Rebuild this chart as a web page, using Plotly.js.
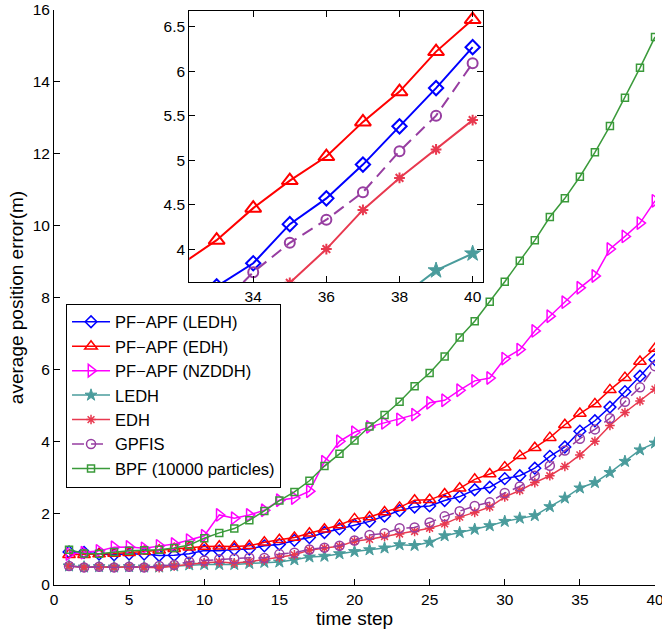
<!DOCTYPE html>
<html>
<head>
<meta charset="utf-8">
<script src="https://cdn.plot.ly/plotly-3.0.1.min.js"></script>
<style>html,body{margin:0;padding:0;background:#fff;}#chart{width:662px;height:633px;}</style>
</head>
<body>
<div id="chart"></div>
<script>
// ---- data ----
var timeSteps = [];
for (var k = 1; k <= 40; k++) timeSteps.push(k);

var seriesNames = ['PF\u2212APF (LEDH)', 'PF\u2212APF (EDH)', 'PF\u2212APF (NZDDH)', 'LEDH', 'EDH', 'GPFIS', 'BPF (10000 particles)'];

var pfApfLEDH = [0.92, 0.91, 0.86, 0.84, 0.86, 0.86, 0.82, 0.83, 0.87, 0.96,
                 0.95, 0.99, 1.00, 1.09, 1.13, 1.24, 1.32, 1.46, 1.56, 1.67,
                 1.77, 1.92, 2.07, 2.17, 2.20, 2.35, 2.46, 2.65, 2.72, 2.96,
                 3.04, 3.25, 3.58, 3.84, 4.28, 4.57, 4.95, 5.38, 5.81, 6.27];
var pfApfEDH = [0.84, 0.84, 0.86, 0.88, 0.90, 0.93, 0.97, 1.01, 1.05, 1.07,
                1.08, 1.07, 1.09, 1.19, 1.26, 1.32, 1.44, 1.55, 1.67, 1.84,
                1.89, 2.03, 2.16, 2.36, 2.37, 2.53, 2.69, 2.94, 3.09, 3.28,
                3.60, 3.82, 4.10, 4.46, 4.77, 5.04, 5.43, 5.77, 6.22, 6.58];
var pfApfNZDDH = [0.86, 0.90, 0.95, 1.05, 1.06, 1.02, 1.09, 1.14, 1.25, 1.37,
                  1.95, 1.86, 1.95, 2.08, 2.36, 2.42, 2.61, 3.43, 4.00, 4.25,
                  4.40, 4.51, 4.61, 4.74, 5.07, 5.14, 5.42, 5.68, 5.76, 6.30,
                  6.55, 7.07, 7.48, 7.87, 8.27, 8.60, 9.35, 9.70, 10.07, 10.69];
var ledh = [0.53, 0.50, 0.51, 0.50, 0.51, 0.50, 0.50, 0.53, 0.56, 0.57,
            0.57, 0.57, 0.60, 0.63, 0.64, 0.70, 0.78, 0.80, 0.87, 0.93,
            0.98, 1.03, 1.12, 1.10, 1.19, 1.37, 1.46, 1.55, 1.65, 1.77,
            1.86, 1.93, 2.18, 2.42, 2.70, 2.85, 3.13, 3.44, 3.76, 3.95];
var edh = [0.53, 0.49, 0.51, 0.49, 0.51, 0.49, 0.48, 0.53, 0.58, 0.62,
           0.64, 0.61, 0.65, 0.70, 0.77, 0.84, 0.97, 1.03, 1.08, 1.22,
           1.27, 1.35, 1.42, 1.49, 1.58, 1.70, 1.89, 2.02, 2.17, 2.45,
           2.63, 2.85, 3.04, 3.30, 3.62, 4.00, 4.44, 4.80, 5.12, 5.45];
var gpfis = [0.53, 0.49, 0.51, 0.49, 0.51, 0.49, 0.53, 0.56, 0.65, 0.68,
             0.72, 0.73, 0.76, 0.75, 0.86, 0.90, 0.99, 1.04, 1.09, 1.24,
             1.39, 1.44, 1.58, 1.60, 1.74, 1.91, 2.05, 2.20, 2.30, 2.56,
             2.74, 3.04, 3.32, 3.74, 4.07, 4.33, 4.64, 5.10, 5.50, 6.09];
var bpf = [0.98, 0.88, 0.87, 0.92, 0.95, 0.97, 0.98, 1.03, 1.11, 1.30,
           1.45, 1.57, 1.80, 2.06, 2.35, 2.59, 2.90, 3.31, 3.65, 4.02,
           4.41, 4.73, 5.10, 5.53, 5.90, 6.36, 6.89, 7.34, 7.88, 8.44,
           9.02, 9.59, 10.24, 10.76, 11.36, 12.04, 12.77, 13.56, 14.39, 15.25];

var mainXTicks = [0, 5, 10, 15, 20, 25, 30, 35, 40];
var mainYTicks = [0, 2, 4, 6, 8, 10, 12, 14, 16];
var insetXTicks = [34, 36, 38, 40];
var insetYTicks = [4, 4.5, 5, 5.5, 6, 6.5];

// ---- styles ----
var seriesValues = [pfApfLEDH, pfApfEDH, pfApfNZDDH, ledh, edh, gpfis, bpf];
var styles = [
  {color: '#0000ff', symbol: 'diamond-open', size: 9, isize: 11, dash: 'solid'},
  {color: '#ff0000', symbol: 'triangle-up-open', size: 11, isize: 14, dash: 'solid'},
  {color: '#ff00ff', symbol: 'triangle-right-open', size: 11, isize: 13, dash: 'solid'},
  {color: '#4a9c9c', symbol: 'star', size: 9, isize: 12, dash: 'solid', filled: true},
  {color: '#e8394f', symbol: 'asterisk-open', size: 8, isize: 9, dash: 'solid'},
  {color: '#973ea1', symbol: 'circle-open', size: 9, isize: 10, dash: '12px,7px'},
  {color: '#3a9a3a', symbol: 'square-open', size: 7, isize: 8, dash: 'solid'}
];

var traces = [];
// main axes
for (var i = 0; i < seriesValues.length; i++) {
  var s = styles[i];
  traces.push({
    x: timeSteps, y: seriesValues[i], name: seriesNames[i],
    type: 'scatter', mode: 'lines+markers', xaxis: 'x', yaxis: 'y',
    line: {color: s.color, width: 1.5, dash: s.dash},
    marker: {symbol: s.symbol, size: s.size, color: s.color,
             line: {color: s.color, width: s.filled ? 1 : 1.5}}
  });
}
// inset axes
for (var j = 0; j < seriesValues.length; j++) {
  var t = styles[j];
  traces.push({
    x: timeSteps, y: seriesValues[j], name: seriesNames[j], showlegend: false,
    type: 'scatter', mode: 'lines+markers', xaxis: 'x2', yaxis: 'y2',
    line: {color: t.color, width: 2, dash: t.dash},
    marker: {symbol: t.symbol, size: t.isize, color: t.color,
             line: {color: t.color, width: t.filled ? 1 : 2}}
  });
}

var fontFam = 'Liberation Sans, Arial, Helvetica, sans-serif';
var layout = {
  width: 662, height: 633,
  margin: {l: 54, r: 7, t: 10, b: 48},
  paper_bgcolor: '#ffffff', plot_bgcolor: '#ffffff',
  font: {family: fontFam, color: '#000000', size: 15.5},
  showlegend: true,
  xaxis: {
    domain: [0, 1], range: [0, 40], tickvals: mainXTicks, ticklabeloverflow: 'allow',
    ticks: 'inside', ticklen: 6, tickcolor: '#000', showline: true, linecolor: '#000', linewidth: 1,
    showgrid: false, zeroline: false, mirror: false,
    title: {text: 'time step', font: {size: 19}, standoff: 2}
  },
  yaxis: {
    domain: [0, 1], range: [0, 16], tickvals: mainYTicks, ticklabeloverflow: 'allow',
    ticks: 'inside', ticklen: 6, tickcolor: '#000', showline: true, linecolor: '#000', linewidth: 1,
    showgrid: false, zeroline: false, mirror: false,
    title: {text: 'average position error(m)', font: {size: 19}, standoff: 4}
  },
  xaxis2: {
    anchor: 'y2', domain: [0.225, 0.713], range: [32.25, 40.27], tickvals: insetXTicks,
    ticks: 'inside', ticklen: 6, tickcolor: '#000', showline: true, linecolor: '#000', linewidth: 1,
    mirror: 'ticks', showgrid: false, zeroline: false
  },
  yaxis2: {
    anchor: 'x2', domain: [0.527, 0.998], range: [3.63, 6.675], tickvals: insetYTicks,
    ticks: 'inside', ticklen: 6, tickcolor: '#000', showline: true, linecolor: '#000', linewidth: 1,
    mirror: 'ticks', showgrid: false, zeroline: false
  },
  legend: {
    x: 0.02, y: 0.4895, xanchor: 'left', yanchor: 'top',
    bgcolor: '#ffffff', bordercolor: '#000000', borderwidth: 1,
    font: {size: 16.5, family: fontFam}, tracegroupgap: 0, itemwidth: 38,
    entrywidth: 185, entrywidthmode: 'pixels'
  }
};

Plotly.newPlot('chart', traces, layout, {displayModeBar: false, staticPlot: true});
</script>
</body>
</html>
